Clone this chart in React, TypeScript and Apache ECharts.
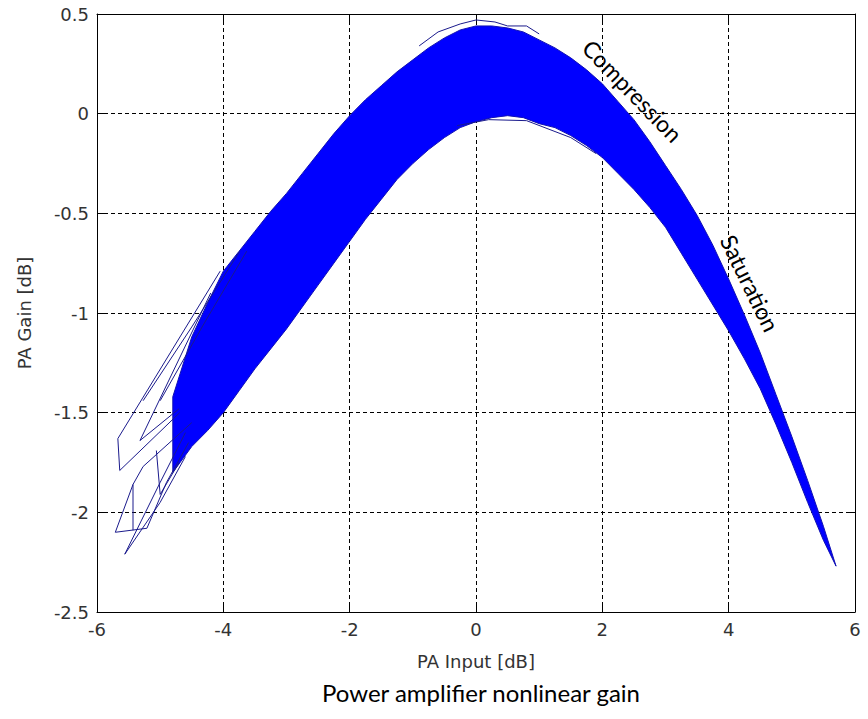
import React, { useEffect, useRef } from "react";
import * as echarts from "echarts";

// Band envelope of the many overlaid gain traces
const bandX = [-4.8, -4.5, -4.25, -4.0, -3.75, -3.5, -3.25, -3.0, -2.75, -2.5, -2.25, -2.0, -1.75, -1.5, -1.25, -1.0, -0.75, -0.5, -0.25, 0.0, 0.25, 0.5, 0.75, 1.0, 1.25, 1.5, 1.75, 2.0, 2.25, 2.5, 2.75, 3.0, 3.25, 3.5, 3.75, 4.0, 4.25, 4.5, 4.75, 5.0, 5.25, 5.5, 5.7];
const bandUpper = [-1.42, -1.12, -0.95, -0.79, -0.69, -0.59, -0.49, -0.40, -0.30, -0.20, -0.10, -0.01, 0.07, 0.14, 0.21, 0.27, 0.33, 0.38, 0.42, 0.44, 0.44, 0.43, 0.41, 0.37, 0.33, 0.28, 0.22, 0.15, 0.06, -0.03, -0.14, -0.26, -0.38, -0.51, -0.66, -0.83, -1.01, -1.20, -1.41, -1.62, -1.84, -2.07, -2.27];
const bandLower = [-1.80, -1.67, -1.59, -1.50, -1.39, -1.28, -1.18, -1.08, -0.97, -0.86, -0.75, -0.64, -0.53, -0.43, -0.33, -0.25, -0.18, -0.12, -0.07, -0.04, -0.02, -0.01, -0.02, -0.05, -0.07, -0.11, -0.16, -0.22, -0.30, -0.38, -0.47, -0.57, -0.70, -0.83, -0.96, -1.09, -1.23, -1.38, -1.56, -1.75, -1.95, -2.14, -2.27];

// Stray traces outside the dense band
const strayA = [[-4.05, -0.79], [-5.67, -1.63], [-5.64, -1.79], [-4.69, -1.5]];
const strayB = [[-4.2, -0.9], [-5.32, -1.64], [-4.7, -1.48]];
const strayC = [[-4.5, -1.55], [-5.27, -1.77], [-5.43, -1.86], [-5.71, -2.1], [-5.21, -2.08], [-4.9, -1.85], [-4.55, -1.65]];
const strayD = [[-4.6, -1.6], [-5.0, -1.85], [-5.56, -2.21], [-5.0, -1.95], [-4.6, -1.72]];
const strayE = [[-5.06, -1.69], [-5.0, -1.91], [-4.7, -1.75]];
const strayF = [[-5.43, -1.86], [-5.43, -2.09]];
const strayG = [[-5.27, -1.44], [-4.5, -1.07], [-3.74, -0.69]];
const strayH = [[-5.0, -1.44], [-4.3, -1.05], [-3.63, -0.69]];
const strayPeak = [[-0.9, 0.34], [-0.6, 0.41], [-0.25, 0.45], [0.0, 0.47], [0.3, 0.46], [0.5, 0.44], [0.8, 0.44], [1.0, 0.4]];
const strayLow = [[-0.3, -0.06], [0.2, -0.03], [0.8, -0.035], [1.5, -0.12], [1.9, -0.2]];

const strays = [strayA, strayB, strayC, strayD, strayE, strayF, strayG, strayH, strayPeak, strayLow];

const xTicks = [-6, -4, -2, 0, 2, 4, 6];
const yTicks = [-2.5, -2, -1.5, -1, -0.5, 0, 0.5];

const annotations = [
  { text: "Compression", x: 2.48, y: 0.115, angle: 46 },
  { text: "Saturation", x: 4.34, y: -0.85, angle: 64 },
];

const caption = "Power amplifier nonlinear gain";
const xName = "PA Input [dB]";
const yName = "PA Gain [dB]";

export default function App() {
  const ref = useRef<HTMLDivElement>(null);
  useEffect(() => {
    if (!ref.current) return;
    const chart = echarts.init(ref.current, null, { renderer: "svg" });
    const tickFont = { fontFamily: "DejaVu Sans", fontSize: 18, color: "#333333" };
    const gridLine = { show: true, lineStyle: { color: "#000", type: [4, 3] as any, width: 1 } };
    const axisLine = { show: true, onZero: false, lineStyle: { color: "#000", width: 1 } };
    const axisTick = { show: true, inside: true, length: 7, lineStyle: { color: "#000" } };
    const edgeColor = "#1010b4";
    const bandData = bandX.map((x, i) => [x, bandLower[i], bandUpper[i]]);
    const series: any[] = [
      {
        type: "custom",
        name: "band",
        data: bandData,
        encode: { x: 0, y: [1, 2] },
        z: 3,
        renderItem: (params: any, api: any) => {
          if (params.dataIndexInside !== 0) return null;
          const n = params.dataInsideLength;
          const low: number[][] = [];
          const up: number[][] = [];
          for (let j = 0; j < n; j++) {
            const x = api.value(0, j);
            low.push(api.coord([x, api.value(1, j)]));
            up.push(api.coord([x, api.value(2, j)]));
          }
          const pts = low.concat(up.reverse());
          return {
            type: "polygon",
            shape: { points: pts },
            style: { fill: "#0000ff", stroke: edgeColor, lineWidth: 1 },
          };
        },
      },
      ...strays.map((s) => ({
        type: "line",
        data: s,
        symbol: "none",
        lineStyle: { color: "#1a1a8c", width: 1 },
        z: 4,
      })),
    ];
    const captionGraphic = {
      type: "text",
      x: 481,
      y: 692,
      style: { text: caption, font: "24px Lato", fill: "#000", align: "center", verticalAlign: "middle" },
    };
    chart.setOption({
      animation: false,
      backgroundColor: "#fff",
      grid: { left: 97, right: 13, top: 14, bottom: 107 },
      xAxis: [
        {
          type: "value",
          min: xTicks[0],
          max: xTicks[xTicks.length - 1],
          interval: 2,
          name: xName,
          nameLocation: "middle",
          nameGap: 40,
          nameTextStyle: { ...tickFont },
          axisLine,
          axisTick,
          axisLabel: { ...tickFont, margin: 8, formatter: (v: number) => String(v) },
          splitLine: gridLine,
        },
        {
          type: "value",
          position: "top",
          min: xTicks[0],
          max: xTicks[xTicks.length - 1],
          interval: 2,
          axisLine,
          axisTick,
          axisLabel: { show: false },
          splitLine: { show: false },
        },
      ],
      yAxis: [
        {
          type: "value",
          min: yTicks[0],
          max: yTicks[yTicks.length - 1],
          interval: 0.5,
          name: yName,
          nameLocation: "middle",
          nameGap: 64,
          nameTextStyle: { ...tickFont },
          axisLine,
          axisTick,
          axisLabel: { ...tickFont, margin: 8, formatter: (v: number) => String(v) },
          splitLine: gridLine,
        },
        {
          type: "value",
          position: "right",
          min: yTicks[0],
          max: yTicks[yTicks.length - 1],
          interval: 0.5,
          axisLine,
          axisTick,
          axisLabel: { show: false },
          splitLine: { show: false },
        },
      ],
      series,
      graphic: [captionGraphic],
    });
    const annGraphics = annotations.map((a) => {
      const p = chart.convertToPixel({ gridIndex: 0 }, [a.x, a.y]) as number[];
      return {
        type: "text",
        x: p[0],
        y: p[1],
        rotation: (-a.angle * Math.PI) / 180,
        style: { text: a.text, font: "23px Lato", fill: "#000", align: "center", verticalAlign: "middle" },
        z: 10,
      };
    });
    chart.setOption({ graphic: [captionGraphic, ...annGraphics] }, { replaceMerge: ["graphic"] } as any);
    return () => chart.dispose();
  }, []);
  return <div ref={ref} style={{ position: "fixed", left: 0, top: 0, width: 868, height: 719 }} />;
}
